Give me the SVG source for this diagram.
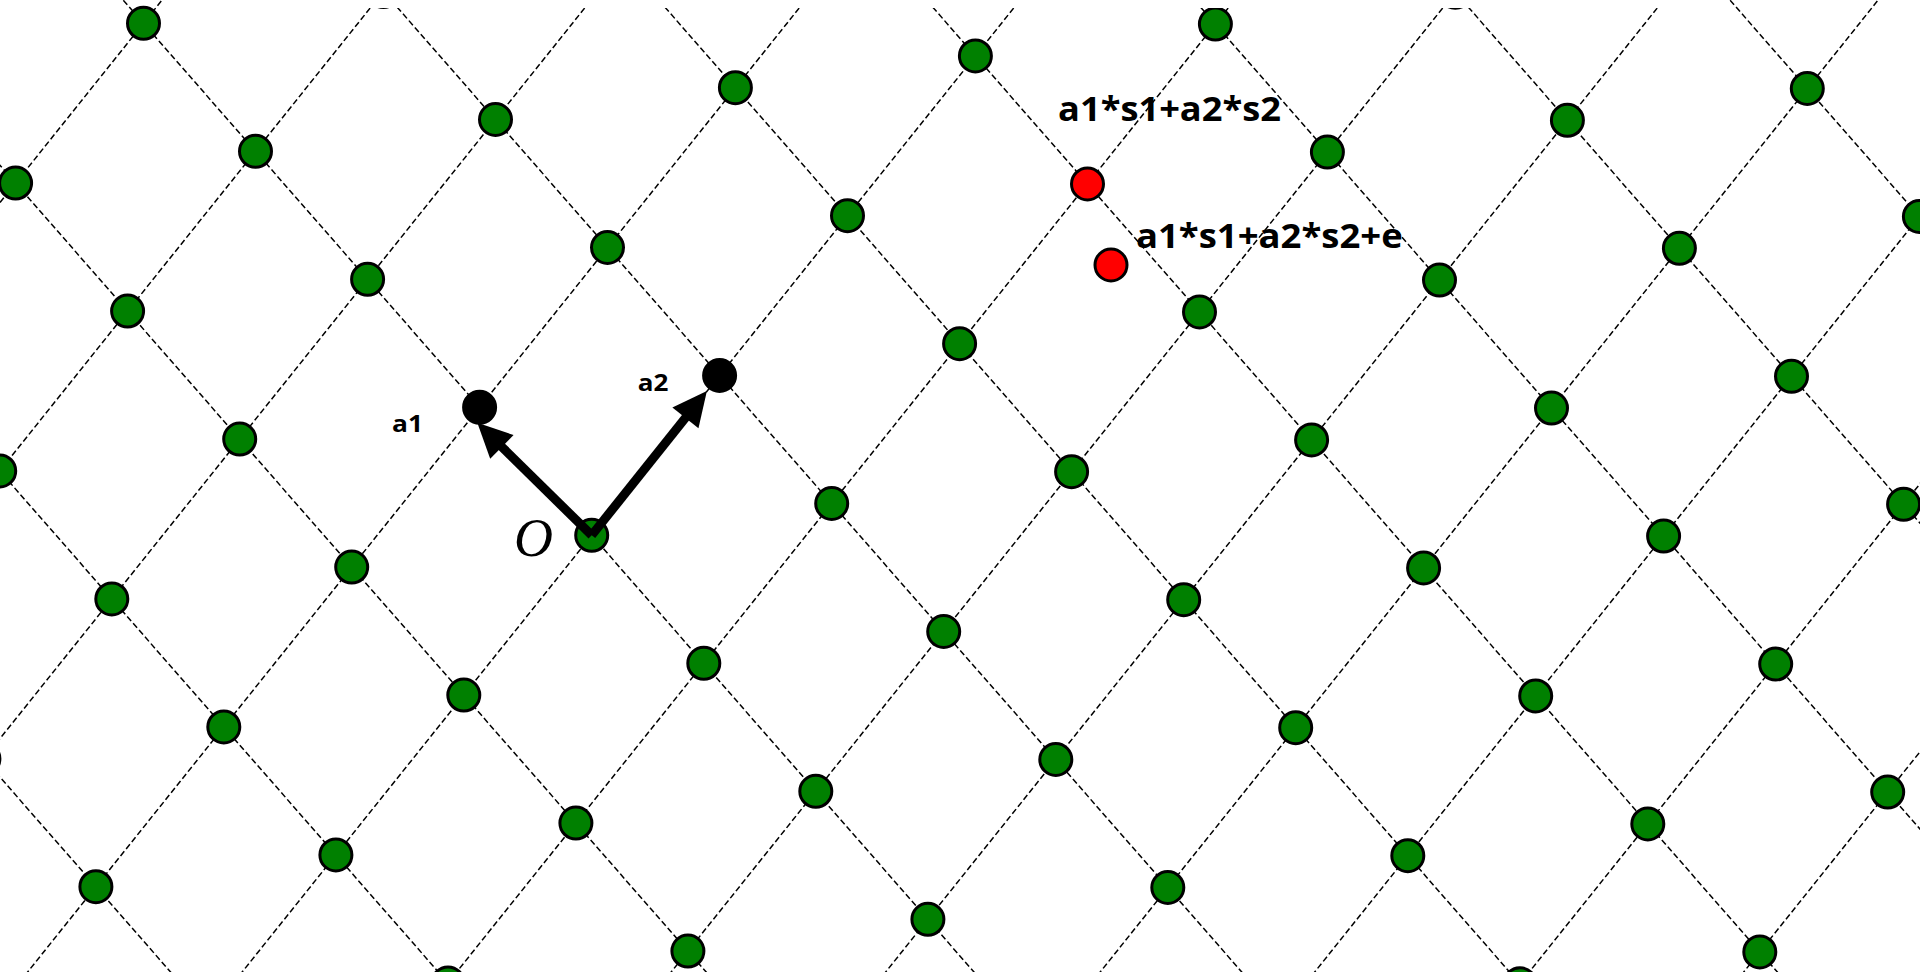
<svg xmlns="http://www.w3.org/2000/svg" width="1920" height="972" viewBox="0 0 1920 972">
<style>
.grid line{stroke:#000;stroke-width:1.5;stroke-dasharray:6 3;fill:none}
.pt{stroke:#000;stroke-width:3}
.g{fill:#008000}
.k{fill:#000}
.r{fill:#ff0000}
.vec{stroke:#000;stroke-width:9;fill:none;marker-end:url(#head)}
.lbl{font-family:"Open Sans","Liberation Sans",sans-serif;font-weight:bold;fill:#000}
.orig{font-family:"Liberation Serif","Times New Roman",serif;font-style:italic;font-size:54px;fill:#000}
</style>
<defs>
<clipPath id="clip">
<rect x="0" y="8" width="1920" height="964"/>
<rect x="0" y="0" width="200" height="8"/>
<rect x="1700" y="0" width="220" height="8"/>
</clipPath>
<marker id="head" markerUnits="userSpaceOnUse" markerWidth="40" markerHeight="40" viewBox="-4 -16 36 32" refX="0" refY="0" orient="auto">
<path d="M-3,-15 L28,0 L-3,15 Z" fill="#000"/>
</marker>
<circle id="dot" r="16"/>
</defs>
<rect width="1920" height="972" fill="#fff"/>
<g clip-path="url(#clip)">
<g id="connectors" class="grid">
<line x1="-697.85" y1="-20" x2="188.09" y2="992"/>
<line x1="-430.05" y1="-20" x2="455.89" y2="992"/>
<line x1="-162.25" y1="-20" x2="723.69" y2="992"/>
<line x1="105.55" y1="-20" x2="479.6" y2="407.3"/>
<line x1="591.7" y1="535.3" x2="991.49" y2="992"/>
<line x1="373.35" y1="-20" x2="1259.29" y2="992"/>
<line x1="641.15" y1="-20" x2="1527.09" y2="992"/>
<line x1="908.95" y1="-20" x2="1794.89" y2="992"/>
<line x1="1176.75" y1="-20" x2="2062.69" y2="992"/>
<line x1="1444.55" y1="-20" x2="2330.49" y2="992"/>
<line x1="1712.35" y1="-20" x2="2598.29" y2="992"/>
<line x1="2537.72" y1="-20" x2="1727.73" y2="992"/>
<line x1="2323.21" y1="-20" x2="1513.22" y2="992"/>
<line x1="2108.70" y1="-20" x2="1298.71" y2="992"/>
<line x1="1894.19" y1="-20" x2="1084.20" y2="992"/>
<line x1="1679.68" y1="-20" x2="869.69" y2="992"/>
<line x1="1465.17" y1="-20" x2="655.18" y2="992"/>
<line x1="1250.66" y1="-20" x2="440.67" y2="992"/>
<line x1="1036.15" y1="-20" x2="226.16" y2="992"/>
<line x1="821.64" y1="-20" x2="11.65" y2="992"/>
<line x1="607.13" y1="-20" x2="-202.86" y2="992"/>
<line x1="392.62" y1="-20" x2="-417.37" y2="992"/>
<line x1="178.11" y1="-20" x2="-631.88" y2="992"/>
</g>
<g id="lattice-points" class="pt g">
<use href="#dot" x="95.9" y="886.7"/>
<use href="#dot" x="-16.1" y="758.7"/>
<use href="#dot" x="448.0" y="982.9"/>
<use href="#dot" x="335.9" y="854.9"/>
<use href="#dot" x="223.8" y="726.9"/>
<use href="#dot" x="111.8" y="598.9"/>
<use href="#dot" x="-0.3" y="470.9"/>
<use href="#dot" x="687.9" y="951.1"/>
<use href="#dot" x="575.9" y="823.1"/>
<use href="#dot" x="463.8" y="695.1"/>
<use href="#dot" x="351.7" y="567.1"/>
<use href="#dot" x="239.7" y="439.1"/>
<use href="#dot" x="127.6" y="311.1"/>
<use href="#dot" x="15.6" y="183.1"/>
<use href="#dot" x="927.9" y="919.3"/>
<use href="#dot" x="815.8" y="791.3"/>
<use href="#dot" x="703.8" y="663.3"/>
<use href="#dot" x="367.6" y="279.3"/>
<use href="#dot" x="255.5" y="151.3"/>
<use href="#dot" x="143.5" y="23.3"/>
<use href="#dot" x="1167.8" y="887.5"/>
<use href="#dot" x="1055.8" y="759.5"/>
<use href="#dot" x="943.7" y="631.5"/>
<use href="#dot" x="831.7" y="503.5"/>
<use href="#dot" x="607.5" y="247.5"/>
<use href="#dot" x="495.5" y="119.5"/>
<use href="#dot" x="383.4" y="-8.5"/>
<use href="#dot" x="1519.9" y="983.7"/>
<use href="#dot" x="1407.8" y="855.7"/>
<use href="#dot" x="1295.7" y="727.7"/>
<use href="#dot" x="1183.7" y="599.7"/>
<use href="#dot" x="1071.6" y="471.7"/>
<use href="#dot" x="959.6" y="343.7"/>
<use href="#dot" x="847.5" y="215.7"/>
<use href="#dot" x="735.4" y="87.7"/>
<use href="#dot" x="1759.8" y="951.9"/>
<use href="#dot" x="1647.8" y="823.9"/>
<use href="#dot" x="1535.7" y="695.9"/>
<use href="#dot" x="1423.6" y="567.9"/>
<use href="#dot" x="1311.6" y="439.9"/>
<use href="#dot" x="1199.5" y="311.9"/>
<use href="#dot" x="975.4" y="55.9"/>
<use href="#dot" x="1215.4" y="24.1"/>
<use href="#dot" x="1327.4" y="152.1"/>
<use href="#dot" x="1439.5" y="280.1"/>
<use href="#dot" x="1551.5" y="408.1"/>
<use href="#dot" x="1663.6" y="536.1"/>
<use href="#dot" x="1775.7" y="664.1"/>
<use href="#dot" x="1887.7" y="792.1"/>
<use href="#dot" x="1455.3" y="-7.7"/>
<use href="#dot" x="1567.4" y="120.3"/>
<use href="#dot" x="1679.4" y="248.3"/>
<use href="#dot" x="1791.5" y="376.3"/>
<use href="#dot" x="1903.6" y="504.3"/>
<use href="#dot" x="1807.3" y="88.5"/>
<use href="#dot" x="1919.4" y="216.5"/>
</g>
</g>
<g id="origin" class="pt g"><use href="#dot" x="591.7" y="535.3"/></g>
<g id="a1" class="pt k"><use href="#dot" x="479.6" y="407.3"/></g>
<g id="a2" class="pt k"><use href="#dot" x="719.6" y="375.5"/></g>
<g id="lattice-sum" class="pt r"><use href="#dot" x="1087.5" y="183.9"/></g>
<g id="noisy-point" class="pt r"><use href="#dot" x="1111" y="265"/></g>
<g id="vectors">
<line class="vec" x1="591.7" y1="535.3" x2="499.5" y2="444.6"/>
<line class="vec" x1="591.7" y1="535.3" x2="687.5" y2="415.2"/>
</g>
<g id="labels">
<text class="lbl" x="392" y="432" font-size="23" textLength="31" lengthAdjust="spacingAndGlyphs">a1</text>
<text class="lbl" x="637.7" y="390.7" font-size="23" textLength="30.6" lengthAdjust="spacingAndGlyphs">a2</text>
<text class="orig" x="514" y="556">O</text>
<text class="lbl" x="1058" y="120.7" font-size="34" textLength="223" lengthAdjust="spacingAndGlyphs">a1*s1+a2*s2</text>
<text class="lbl" x="1136" y="248.3" font-size="34" textLength="266.7" lengthAdjust="spacingAndGlyphs">a1*s1+a2*s2+e</text>
</g>
</svg>
